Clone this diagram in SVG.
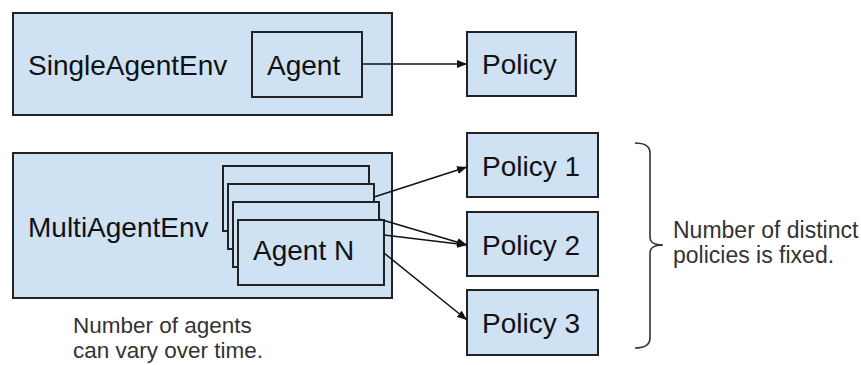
<svg xmlns="http://www.w3.org/2000/svg" width="861" height="365" viewBox="0 0 861 365">
  <style>
    .box { fill: #cfe2f3; stroke: #222; stroke-width: 2; }
    .label { font-family: "Liberation Sans", Arial, sans-serif; font-size: 28px; fill: #111; }
    .note { font-family: "Liberation Sans", Arial, sans-serif; font-size: 22.5px; fill: #333; }
    .link { fill: none; stroke: #111; stroke-width: 1.5; marker-end: url(#arrow); }
    .brace { fill: none; stroke: #333; stroke-width: 1.6; }
  </style>
  <defs>
    <marker id="arrow" viewBox="0 0 10 8" refX="10" refY="4" markerWidth="10" markerHeight="8" markerUnits="userSpaceOnUse" orient="auto">
      <path d="M0,0 L10,4 L0,8 z" fill="#111"/>
    </marker>
  </defs>

  <rect width="861" height="365" fill="#ffffff"/>

  <!-- single-agent environment -->
  <g id="single-env">
    <rect class="box" x="13" y="13" width="379" height="102"/>
    <text class="label" x="28" y="75">SingleAgentEnv</text>
  </g>
  <g id="agent">
    <rect class="box" x="252" y="32" width="110" height="65"/>
    <text class="label" x="267" y="75">Agent</text>
  </g>
  <g id="policy">
    <rect class="box" x="467" y="32" width="109" height="64"/>
    <text class="label" x="482" y="74">Policy</text>
  </g>

  <!-- multi-agent environment -->
  <g id="multi-env">
    <rect class="box" x="13" y="153" width="379" height="145"/>
    <text class="label" x="28" y="237">MultiAgentEnv</text>
  </g>
  <g id="agents">
    <rect class="box" x="223" y="166" width="146" height="65"/>
    <rect class="box" x="228" y="184" width="146" height="65"/>
    <rect class="box" x="233" y="202" width="146" height="65"/>
    <rect class="box" x="238" y="220" width="146" height="65"/>
    <text class="label" x="253" y="260">Agent N</text>
  </g>
  <g id="policy-1">
    <rect class="box" x="467" y="133" width="131" height="64"/>
    <text class="label" x="482" y="176">Policy 1</text>
  </g>
  <g id="policy-2">
    <rect class="box" x="467" y="212" width="131" height="64"/>
    <text class="label" x="482" y="255">Policy 2</text>
  </g>
  <g id="policy-3">
    <rect class="box" x="467" y="290" width="131" height="65"/>
    <text class="label" x="482" y="333">Policy 3</text>
  </g>

  <!-- connectors -->
  <g id="connectors">
    <line class="link" x1="362" y1="64" x2="467" y2="64"/>
    <line class="link" x1="374" y1="197" x2="467" y2="167"/>
    <line class="link" x1="379" y1="219" x2="467" y2="245"/>
    <line class="link" x1="384" y1="235" x2="467" y2="245"/>
    <line class="link" x1="384" y1="253" x2="467" y2="320"/>
  </g>

  <!-- annotations -->
  <g id="agents-note">
    <text class="note" x="73" y="333">Number of agents</text>
    <text class="note" x="73" y="358">can vary over time.</text>
  </g>
  <g id="policies-note">
    <path class="brace" d="M635,143 Q650,143 650,153 L650,237 Q650,245 663,245 Q650,245 650,253 L650,338 Q650,348 635,348"/>
    <text class="note" x="673" y="238" style="font-size:23px">Number of distinct</text>
    <text class="note" x="673" y="263" style="font-size:23px">policies is fixed.</text>
  </g>
</svg>
